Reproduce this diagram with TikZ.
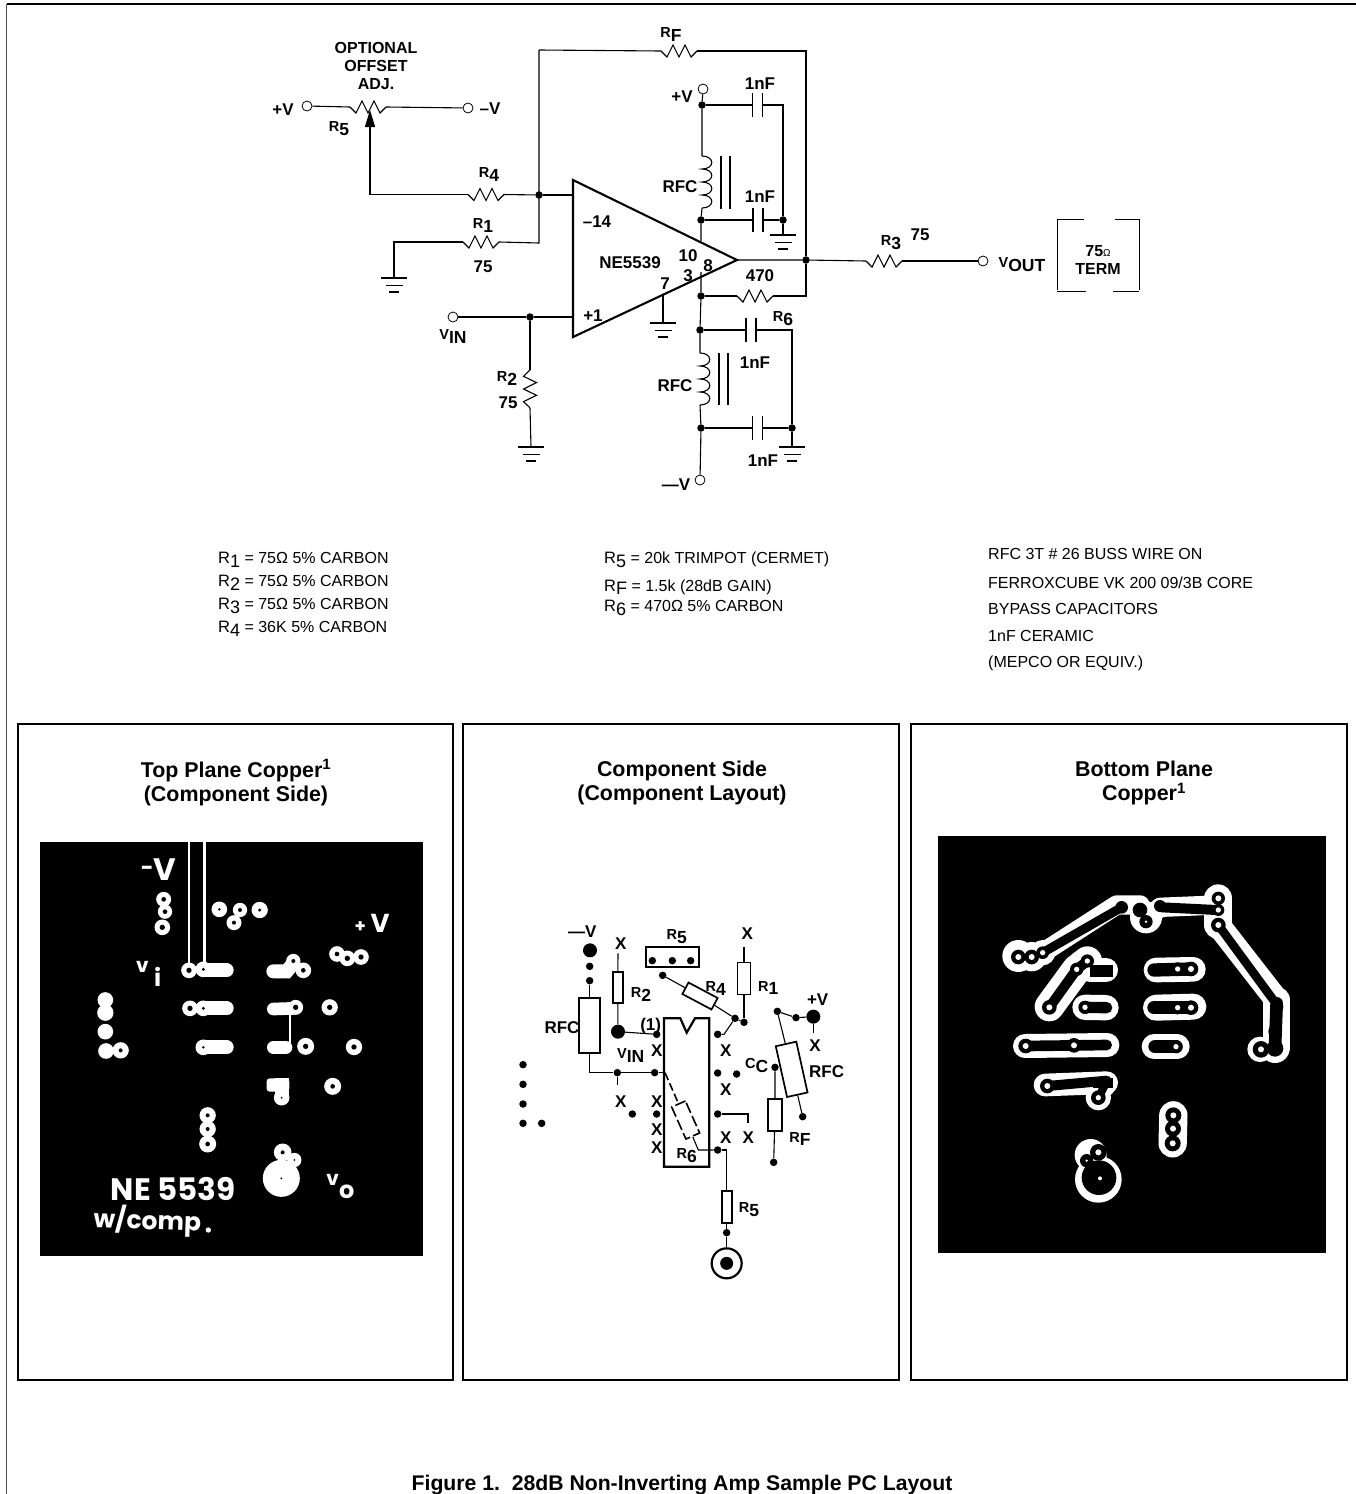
\documentclass[tikz,border=0pt]{standalone}
\usepackage{fontspec}
\setmainfont{Liberation Sans}
\newfontfamily\handfont{Poppins}
\usetikzlibrary{arrows.meta,calc}
\newcommand\Rs[2]{{\fontsize{14.5}{14.5}\selectfont #1}\raisebox{-3.5pt}{\fontsize{17.5}{17.5}\selectfont #2}}
\newcommand\Rt[2]{{\fontsize{16.5}{16.5}\selectfont #1}\raisebox{-3.5pt}{\fontsize{18}{18}\selectfont #2}}
\newcommand\lab[3]{\node[lbl] (#1) at (#2) {#3};}
\newcommand\txt[3]{\node[note] (#1) at (#2) {#3};}
\newcommand\hzig{-- ++(6,6) -- ++(6,-12) -- ++(6,12) -- ++(6,-12) -- ++(6,12) -- ++(6,-6)}
\newcommand\vzig{-- ++(-6.5,6.3) -- ++(13,6.3) -- ++(-13,6.4) -- ++(13,6.3) -- ++(-13,6.3) -- ++(6.5,6.3)}
\newcommand\bump{.. controls +(13,0) and +(13,0) .. ++(0,13)}
\tikzset{
 x=1pt,y=-1pt,
 wire/.style={line width=1.1pt,line join=miter},
 jdot/.style={circle,fill=black,inner sep=0pt,minimum size=7.5pt},
 tdot/.style={circle,draw=black,line width=0.8pt,fill=white,inner sep=0pt,minimum size=10pt},
 lbl/.style={inner sep=0pt,yshift=-0.7pt,font=\bfseries\fontsize{17}{18}\selectfont,text=black},
 note/.style={inner sep=0pt,anchor=west,yshift=-1pt,font=\fontsize{16}{16}\selectfont,text=black},
 ttl/.style={inner sep=0pt,align=center,font=\bfseries\fontsize{21.4}{24}\selectfont},
 panelbox/.style={draw=black,line width=2.2pt},
 hand/.style={inner sep=0pt,text=white,font=\handfont\bfseries},
 pcbrect/.style={draw=black,line width=1.7pt,fill=white,inner sep=0pt},
 zdot/.style={circle,fill=black,inner sep=0pt,minimum size=7.5pt},
 zbig/.style={circle,fill=black,inner sep=0pt,minimum size=14pt},
 pics/gnd/.style={code={
   \draw[line width=1.6pt] (-13,0) -- (13,0);
   \draw[line width=1.6pt] (-8.5,7.5) -- (8.5,7.5);
   \draw[line width=1.6pt] (-5,14) -- (5,14);}},
 pics/capv/.style={code={
   \draw[line width=1.7pt] (-5,-12) -- (-5,12);
   \draw[line width=1.7pt] (5,-12) -- (5,12);}},
}
\begin{document}
\begin{tikzpicture}
\useasboundingbox (0,0) rectangle (1356,1494);
\fill[white] (0,0) rectangle (1356,1494);
\coordinate (fa) at (6.5,1494); \coordinate (fb) at (6.5,4); \coordinate (fc) at (1356,4);
\draw[line width=1.3pt,draw=black!70] (fa) -- (fb);
\draw[line width=1.2pt] (fb) -- (fc);

%% ---------- schematic nodes
\coordinate (OA) at (573,180); \coordinate (OB) at (573,337); \coordinate (OC) at (737,260);
\draw[line width=2.1pt,line join=miter] (OA) -- (OC) -- (OB) -- cycle;
\coordinate (inm) at (572,195); \coordinate (inp) at (572,317);
\node[jdot] (J1) at (539,195) {};
\node[jdot] (J2) at (530,317) {};
\node[jdot] (Jo) at (806,260) {};
\node[jdot] (Jv1) at (702,105) {};
\node[jdot] (Jv2) at (701,220) {};
\node[jdot] (Jg1) at (783,220) {};
\node[jdot] (Jm1) at (701,296) {};
\node[jdot] (Jm2) at (700,330) {};
\node[jdot] (Jm3) at (701,428) {};
\node[jdot] (Jg2) at (792,428) {};
\node[tdot] (Tp) at (307,106) {};
\node[tdot] (Tm) at (468,108) {};
\node[tdot] (Tvp) at (703,89) {};
\node[tdot] (Tvm) at (700,480) {};
\node[tdot] (Tin) at (453,317) {};
\node[tdot] (Tout) at (983,261) {};

\coordinate (rfa) at (661,51); \coordinate (rfb) at (697,51);
\coordinate (r4a) at (468,194.5); \coordinate (r4b) at (504,194.5);
\coordinate (r1a) at (463,242); \coordinate (r1b) at (499,242);
\coordinate (r5a) at (350,107); \coordinate (r5b) at (386,107);
\coordinate (r6a) at (737,296); \coordinate (r6b) at (773,296);
\coordinate (r3a) at (866,261); \coordinate (r3b) at (902,261);
\coordinate (r2a) at (530,370); \coordinate (r2b) at (530,408);
\coordinate (rftop) at (539,50); \coordinate (rfr) at (806,51);
\coordinate (r1c) at (539,243);
\coordinate (g1) at (394,278); \coordinate (g2) at (531,447); \coordinate (g3) at (663,323);
\coordinate (g4) at (783,235); \coordinate (g5) at (792,447);
\coordinate (wc) at (370,194.5); \coordinate (wt) at (370,110);
\coordinate (p7) at (663,295);
\coordinate (lta) at (702,156); \coordinate (ltb) at (702,208);
\coordinate (lba) at (700,353); \coordinate (lbb) at (700,405);
\coordinate (otop) at (701,241); \coordinate (obot) at (701,272);
\coordinate (c1a) at (752,105); \coordinate (c1b) at (763,105); \coordinate (c1r) at (783,105);
\coordinate (c2a) at (753,220); \coordinate (c2b) at (763,220);
\coordinate (c3a) at (746,330); \coordinate (c3b) at (756,330); \coordinate (c3r) at (792,330);
\coordinate (c4a) at (753,428); \coordinate (c4b) at (763,428);

\draw[wire] (rftop) -- (rfa);
\draw[wire] (rfa) \hzig;
\draw[wire] (rfb) -- (rfr) -- (Jo);
\draw[wire] (rftop) -- (r1c) -- (r1b);
\draw[wire] (r1a) \hzig;
\draw[wire] (r1a) -- ($(r1a)+(-69,0)$) -- (g1);
\draw[wire] (r4b) -- (J1);
\draw[wire] (r4a) \hzig;
\draw[wire] (J1) -- (inm);
\draw[wire] (r4a) -- (wc);
\draw[wire,-{Triangle[length=17pt,width=10pt]}] (wc) -- (wt);
\draw[wire] (Tp) -- (r5a);
\draw[wire] (r5a) \hzig;
\draw[wire] (r5b) -- (Tm);
\draw[wire] (Tin) -- (J2) -- (inp);
\draw[wire] (J2) -- (r2a);
\draw[wire] (r2a) \vzig;
\draw[wire] (r2b) -- (g2);
\draw[wire] (p7) -- (g3);
\draw[wire] (Tvp) -- (Jv1) -- (lta);
\draw[wire] (lta) \bump \bump \bump \bump;
\draw[wire] (ltb) -- (Jv2) -- (otop);
\draw[wire] (obot) -- (Jm1) -- (Jm2) -- (lba);
\draw[wire] (lba) \bump \bump \bump \bump;
\draw[wire] (lbb) -- (Jm3) -- (Tvm);
\draw[wire] (OC) -- (Jo) -- (r3a);
\draw[wire] (r3a) \hzig;
\draw[wire] (r3b) -- (Tout);
\draw[wire] (Jm1) -- (r6a);
\draw[wire] (r6a) \hzig;
\draw[wire] (r6b) -- ($(r6b)+(33,0)$) -- (Jo);
\draw[wire] (Jv1) -- (c1a); \draw[wire] (c1b) -- (c1r) -- (Jg1) -- (g4);
\draw[wire] (Jv2) -- (c2a); \draw[wire] (c2b) -- (Jg1);
\draw[wire] (Jm2) -- (c3a); \draw[wire] (c3b) -- (c3r) -- (Jg2) -- (g5);
\draw[wire] (Jm3) -- (c4a); \draw[wire] (c4b) -- (Jg2);
\pic at (757.5,105) {capv};
\pic at (758,220) {capv};
\pic at (751,330) {capv};
\pic at (757.5,428) {capv};
\pic at (g1) {gnd}; \pic at (g2) {gnd}; \pic at (g3) {gnd}; \pic at (g4) {gnd}; \pic at (g5) {gnd};
\draw[line width=1.7pt] (721,156) -- (721,209);
\draw[line width=1.7pt] (730,156) -- (730,209);
\draw[line width=1.7pt] (719,353) -- (719,405);
\draw[line width=1.7pt] (728,353) -- (728,405);
% termination brackets
\draw[line width=0.9pt] (1084,219) -- (1057,219) -- (1057,290);
\draw[line width=0.9pt] (1115,219) -- (1139,219) -- (1139,290);
\draw[line width=0.9pt] (1057,291) -- (1086,291);
\draw[line width=0.9pt] (1113,291) -- (1139,291);

%% ---------- schematic labels
\node[lbl,align=center,font=\bfseries\fontsize{16}{18}\selectfont] (opt) at (376,65) {OPTIONAL\\OFFSET\\ADJ.};
\lab{lvp1}{283,109}{+V}
\lab{lvm1}{490,108}{–V}
\lab{lr5}{339,128}{\Rs{R}{5}}
\lab{lrf}{671,34}{\Rs{R}{F}}
\lab{lr4}{489,174}{\Rs{R}{4}}
\lab{lr1}{483,225}{\Rs{R}{1}}
\lab{l751}{483,266}{75}
\lab{lvin}{453,336}{\Rs{V}{IN}}
\lab{lr2}{507,378}{\Rs{R}{2}}
\lab{l752}{508,402}{75}
\lab{lop14}{597,221}{–14}
\lab{lopn}{630,262}{NE5539}
\lab{lop10}{688,255}{10}
\lab{lop8}{708,265}{8}
\lab{lop3}{688,275}{3}
\lab{lop7}{665,283}{7}
\lab{lop1}{593,315}{+1}
\lab{lvp2}{682,96}{+V}
\lab{lc1}{760,83}{1nF}
\lab{lrfc1}{680,186}{RFC}
\lab{lc2}{760,196}{1nF}
\lab{l470}{760,275}{470}
\lab{lr6}{783,318}{\Rs{R}{6}}
\lab{lc3}{755,362}{1nF}
\lab{lrfc2}{675,385}{RFC}
\lab{lc4}{763,460}{1nF}
\lab{lvm2}{676,484}{—V}
\lab{lr3}{891,242}{\Rs{R}{3}}
\lab{l753}{920,234}{75}
\lab{lvo}{1022,264}{\Rs{V}{OUT}}
\node[lbl,align=center,font=\bfseries\fontsize{16}{18}\selectfont] (lterm) at (1098,259) {75{\fontsize{10}{10}\mdseries\selectfont Ω}\\TERM};

%% ---------- notes
\txt{n1}{218,559}{\Rt{R}{1} = 75Ω 5\% CARBON}
\txt{n2}{218,582}{\Rt{R}{2} = 75Ω 5\% CARBON}
\txt{n3}{218,605}{\Rt{R}{3} = 75Ω 5\% CARBON}
\txt{n4}{218,628}{\Rt{R}{4} = 36K 5\% CARBON}
\txt{n5}{604,559}{\Rt{R}{5} = 20k TRIMPOT (CERMET)}
\txt{n6}{604,586}{\Rt{R}{F} = 1.5k (28dB GAIN)}
\txt{n7}{604,607}{\Rt{R}{6} = 470Ω 5\% CARBON}
\txt{n8}{988,553}{RFC 3T \# 26 BUSS WIRE ON}
\txt{n9}{988,582}{FERROXCUBE VK 200 09/3B CORE}
\txt{n10}{988,608}{BYPASS CAPACITORS}
\txt{n11}{988,635}{1nF CERAMIC}
\txt{n12}{988,662}{(MEPCO OR EQUIV.)}

%% ---------- panels
\node[panelbox,minimum width=435pt,minimum height=656pt,inner sep=0pt] (P1) at (235.5,1052) {};
\node[panelbox,minimum width=436pt,minimum height=656pt,inner sep=0pt] (P2) at (681,1052) {};
\node[panelbox,minimum width=436pt,minimum height=656pt,inner sep=0pt] (P3) at (1129,1052) {};
\node[ttl] (T1) at (236,782.5) {Top Plane Copper\textsuperscript{1}\\(Component Side)};
\node[ttl] (T2) at (682,783) {Component Side\\(Component Layout)};
\node[ttl] (T3) at (1144,783) {Bottom Plane\\Copper\textsuperscript{1}};
\node[inner sep=0pt,font=\bfseries\fontsize{21.2}{24}\selectfont] (cap) at (682,1485.5) {Figure 1.\ \ 28dB Non-Inverting Amp Sample PC Layout};

%% ---------- top copper
\fill[black] (39.5,842) rectangle (423,1256);
\begin{scope}[shift={(30pt,-830pt)},x=0.33333pt,y=-0.33333pt]
 \draw[white,line width=2.6pt] (477,35) -- (477,412);
 \draw[white,line width=2.8pt] (523,35) -- (523,412);
 \draw[white,line width=2pt] (779,550) -- (779,640);
 \draw[white,line width=42pt/3,line cap=round] (530,421) -- (590,421);
 \draw[white,line width=42pt/3,line cap=round] (530,535) -- (590,535);
 \draw[white,line width=42pt/3,line cap=round] (530,652) -- (590,652);
 \draw[white,line width=42pt/3,line cap=round] (730,424) -- (770,424) -- (790,400);
 \draw[white,line width=38pt/3,line cap=round] (730,537) -- (795,535);
 \draw[white,line width=38pt/3,line cap=round] (730,652) -- (768,652);
 \fill[white,rounded corners=3pt] (710,745) rectangle (778,785);
 \fill[white] (735,745) rectangle (778,800);
 \foreach \x/\y/\r/\h in {
  401/208/21/7, 405/245/20/7, 397/292/22/8,
  568/238/22/4, 630/240/20/6, 612/278/21/6, 689/240/23/5,
  921/372/22/7, 952/385/22/8, 993/381/22/8,
  477/421/22/8, 520/418/22/5, 790/393/20/6, 820/421/22/7,
  480/535/22/8, 520/535/22/5, 797/532/21/8, 899/532/23/8,
  520/652/22/4, 827/649/24/8, 972/651/23/8,
  755/803/22/3, 908/769/24/7,
  533/856/23/6, 533/897/23/6, 533/942/24/7,
  226/510/22/0, 226/548/23/0, 226/605/22/0, 228/663/22/0, 272/661/23/6,
  754/1045/54/3, 758/967/25/6, 793/990/20/3}
 {\fill[white] (\x,\y) circle ({\r+1.5}); \ifnum\h>0 \fill[black] (\x,\y) circle (\h);\fi}
 \fill[white] (535,1200) circle (8);
 \node[hand,font=\handfont\bfseries\fontsize{22}{22}\selectfont] (hm) at (352,122) {-};
 \node[hand,font=\handfont\bfseries\fontsize{31}{31}\selectfont] (hv) at (405,118) {V};
 \node[hand,font=\handfont\bfseries\fontsize{18}{18}\selectfont] (hp) at (991,290) {+};
 \node[hand,font=\handfont\bfseries\fontsize{26}{26}\selectfont] (hv2) at (1050,280) {V};
 \node[hand,font=\handfont\bfseries\fontsize{20}{20}\selectfont] (hvi) at (337,410) {v};
 \node[hand,font=\handfont\bfseries\fontsize{24}{24}\selectfont] (hi) at (383,440) {i};
 \node[hand,font=\handfont\bfseries\fontsize{20}{20}\selectfont] (hv0) at (908,1050) {v};
 \node[hand,font=\handfont\bfseries\fontsize{24}{24}\selectfont] (h0) at (950,1085) {o};
 \node[hand,font=\handfont\bfseries\fontsize{31}{31}\selectfont] (hne) at (430,1076) {NE 5539};
 \node[hand,font=\handfont\bfseries\fontsize{25}{25}\selectfont,rotate=-2] (hw) at (352,1172) {w/comp};
\end{scope}

%% ---------- bottom copper
\fill[black] (938,836) rectangle (1326,1253);
\begin{scope}[shift={(930pt,-830pt)},x=0.33333pt,y=-0.33333pt]
 % white clearance
 \begin{scope}[white,line cap=round,line join=round]
  \draw[line width=58pt/3] (338,368) -- (560,225) -- (630,225) -- (648,268) -- (690,232) -- (860,225);
  \draw[line width=84pt/3] (865,205) -- (865,285);
  \draw[line width=72pt/3] (865,285) -- (1040,510);
  \draw[line width=80pt/3] (1040,510) -- (1040,650);
  \draw[line width=88pt/3] (358,530) -- (440,418) -- (472,393);
  \draw[line width=72pt/3] (480,420) -- (528,420);
  \draw[line width=76pt/3] (465,532) -- (528,533);
  \draw[line width=74pt/3] (678,420) -- (790,418);
  \draw[line width=78pt/3] (678,533) -- (790,530);
  \draw[line width=72pt/3] (285,648) -- (532,645);
  \draw[line width=74pt/3] (672,650) -- (742,650);
  \draw[line width=68pt/3] (345,765) -- (530,758);
  \draw[line width=85pt/3] (730,856) -- (728,940);
  \foreach \x/\y/\r in {265/378/48, 305/380/44, 338/368/38, 648/262/48, 990/658/38, 1035/655/44,
    505/803/38, 525/770/30, 505/1048/70, 482/975/48}
   {\fill (\x,\y) circle (\r);}
 \end{scope}
 % copper (black)
 \begin{scope}[black,line cap=round,line join=round]
  \draw[line width=27pt/3] (338,368) -- (575,232);
  \draw[line width=30pt/3] (695,232) -- (860,240);
  \draw[line width=26pt/3] (865,285) -- (1030,510);
  \draw[line width=38pt/3] (1040,520) -- (1035,655);
  \draw[line width=30pt/3] (358,532) -- (440,418) -- (472,393);
  \draw[line width=34pt/3] (465,532) -- (530,533);
  \draw[line width=40pt/3] (672,420) -- (783,417);
  \draw[line width=40pt/3] (672,533) -- (783,533);
  \draw[line width=32pt/3] (287,648) -- (530,645);
  \draw[line width=40pt/3] (675,650) -- (738,650);
  \draw[line width=30pt/3] (352,768) -- (530,752);
  \fill (480,405) rectangle (550,440);
  \fill (490,745) rectangle (550,775);
  \draw[line width=24pt/3] (530,755) -- (505,803);
  \foreach \x/\y/\r in {265/381/22, 305/381/22, 338/368/19, 575/232/19, 630/240/22, 648/275/20,
    690/228/18, 865/205/20, 865/240/18, 865/285/22, 1040/530/20, 1035/605/20, 993/658/25, 1035/655/25,
    440/418/20, 472/393/20, 358/532/22, 465/532/20, 743/417/20, 783/417/22, 743/533/20, 783/533/22,
    287/648/22, 432/646/22, 738/650/20, 352/768/22, 505/803/22, 730/856/24, 729/896/24, 728/940/24,
    507/1043/52, 505/967/25, 470/992/20}
   {\fill (\x,\y) circle (\r);}
 \end{scope}
 \foreach \x/\y/\r in {265/381/9, 305/381/9, 338/368/8, 648/275/4, 865/205/9, 865/240/8, 865/285/9, 993/658/9,
    440/418/8, 472/393/8, 358/532/9, 465/532/8, 743/417/8, 783/417/9, 743/533/8, 783/533/9,
    287/648/9, 432/646/9, 738/650/8, 352/768/9, 505/803/8, 730/856/9, 729/896/9, 728/940/9,
    505/967/9, 470/992/4, 510/1045/6}
   {\fill[white] (\x,\y) circle (\r);}
\end{scope}

%% ---------- component layout
\begin{scope}[shift={(500pt,-910pt)},x=0.33333pt,y=-0.33333pt]
 \draw[line width=2.2pt,fill=white,line join=miter] (492,325) -- (541,325) -- (560,368) -- (585,325) -- (628,325) -- (628,770) -- (492,770) -- cycle;
 \node[zbig] (vmd) at (270,121) {};
 \node[zdot] (d1) at (269,169) {};
 \node[zdot] (d2) at (269,212) {};
 \node[pcbrect,minimum width=21pt,minimum height=55pt] (rfcl) at (269,347.5) {};
 \draw[wire] (d2) -- (rfcl);
 \node[zdot] (dv) at (352,488) {};
 \node[zdot] (dp2) at (464,488) {};
 \coordinate (ic2) at (495,488);
 \draw[wire] (rfcl) |- (dv) -- (dp2) -- (ic2);
 \coordinate (xv) at (352,525);
 \draw[wire] (dv) -- (xv);
 \node[zdot] (d3) at (397,612) {};
 \coordinate (xr2) at (354,130);
 \node[pcbrect,minimum width=10pt,minimum height=31pt] (r2b) at (353,232) {};
 \node[zbig] (vin) at (354,365) {};
 \node[zdot] (dp1) at (470,373) {};
 \draw[wire] (xr2) -- (r2b) -- (vin);
 \draw[wire] (vin) -- (dp1);
 \node[pcbrect,draw=black,line width=2.2pt,fill=none,minimum width=53pt,minimum height=20.5pt] (r5box) at (517,141) {};
 \node[zdot] (p1) at (457,152) {};
 \node[zdot] (p2) at (517,152) {};
 \node[zdot] (p3) at (572,152) {};
 \node[zdot] (d4) at (488,196) {};
 \node[zdot] (d5) at (705,325) {};
 \node[zdot] (d6) at (732,337) {};
 \node[pcbrect,minimum width=33pt,minimum height=13pt,rotate=-28] (r4b) at (600,258) {};
 \draw[wire] (d4) -- (r4b) -- (d5);
 \draw[wire] (d5) -- (d6);
 \coordinate (xr1) at (732,112);
 \node[pcbrect,line width=1pt,minimum width=13pt,minimum height=32pt] (r1b) at (732,205) {};
 \draw[wire] (xr1) -- (r1b) -- (d6);
 \node[zdot] (p16) at (653,373) {};
 \coordinate (kn) at (672,373);
 \draw[wire] (d5) -- (kn) -- (p16);
 \node[zdot] (p15) at (653,489) {};
 \node[zdot] (d7) at (710,492) {};
 \node[zdot] (p14) at (653,612) {};
 \coordinate (k2) at (744,612); \coordinate (k3) at (744,640);
 \draw[wire] (p14) -- (k2) -- (k3);
 \node[zdot] (p13) at (653,720) {};
 \node[zdot] (p7a) at (470,612) {};
 \node[pcbrect,line width=1.6pt,dash pattern=on 11pt off 3.5pt,fill=none,minimum width=15pt,minimum height=35pt,rotate=24] (r6d) at (557,630) {};
 \draw[line width=1.6pt,dash pattern=on 8pt off 3.5pt] (ic2) -- (r6d);
 \coordinate (k4) at (595,720);
 \draw[wire] (r6d) -- (k4) -- (p13);
 \coordinate (k5) at (680,720);
 \node[pcbrect,minimum width=10pt,minimum height=32pt] (r5o) at (680,892) {};
 \draw[wire] (p13) -- (k5) -- (r5o);
 \node[zdot] (d8) at (680,968) {};
 \draw[wire] (r5o) -- (d8);
 \node[circle,draw=black,line width=2.2pt,fill=white,inner sep=0pt,minimum size=30pt] (bnc) at (680,1060) {};
 \node[circle,fill=black,inner sep=0pt,minimum size=13pt] (bnc2) at (680,1060) {};
 \draw[wire] (d8) -- (bnc);
 \foreach \n/\y in {a/464,b/523,c/582,d/640} {\node[zdot] (l\n) at (69,\y) {};}
 \node[zdot] (le) at (125,640) {};
 \node[zdot] (cc) at (825,472) {};
 \node[pcbrect,minimum width=13.5pt,minimum height=32pt] (rfb) at (825,616) {};
 \node[zdot] (d9) at (821,757) {};
 \draw[wire] (cc) -- (rfb) -- (d9);
 \node[zbig] (vpd) at (940,320) {};
 \node[zdot] (d10) at (888,323) {};
 \node[zdot] (d11) at (832,304) {};
 \draw[wire] (d11) -- (d10) -- (vpd);
 \coordinate (xvp) at (940,370);
 \draw[wire] (vpd) -- (xvp);
 \node[pcbrect,minimum width=21pt,minimum height=52pt,rotate=12.5] (rfcr) at (875,478) {};
 \node[zdot] (d12) at (908,620) {};
 \draw[wire] (d11) -- (rfcr) -- (d12);
 % labels
 \lab{a1}{247,62}{—V}
 \lab{a2}{362,98}{X}
 \lab{a3}{530,78}{\Rs{R}{5}}
 \lab{a4}{742,68}{X}
 \lab{a5}{423,252}{\Rs{R}{2}}
 \lab{a6}{647,233}{\Rs{R}{4}}
 \lab{a7}{805,232}{\Rs{R}{1}}
 \lab{a8}{953,268}{+V}
 \lab{a9}{186,352}{RFC}
 \lab{a10}{452,345}{(1)}
 \lab{a11}{392,435}{\Rs{V}{IN}}
 \lab{a12}{470,420}{X}
 \lab{a13}{677,420}{X}
 \lab{a14}{945,405}{X}
 \lab{a15}{770,465}{\Rs{C}{C}}
 \lab{a16}{980,482}{RFC}
 \lab{a17}{677,537}{X}
 \lab{a18}{362,572}{X}
 \lab{a19}{470,572}{X}
 \lab{a20}{470,657}{X}
 \lab{a21}{470,710}{X}
 \lab{a22}{677,680}{X}
 \lab{a23}{745,680}{X}
 \lab{a24}{560,735}{\Rs{R}{6}}
 \lab{a25}{900,685}{\Rs{R}{F}}
 \lab{a26}{747,897}{\Rs{R}{5}}
\end{scope}
\end{tikzpicture}
\end{document}
